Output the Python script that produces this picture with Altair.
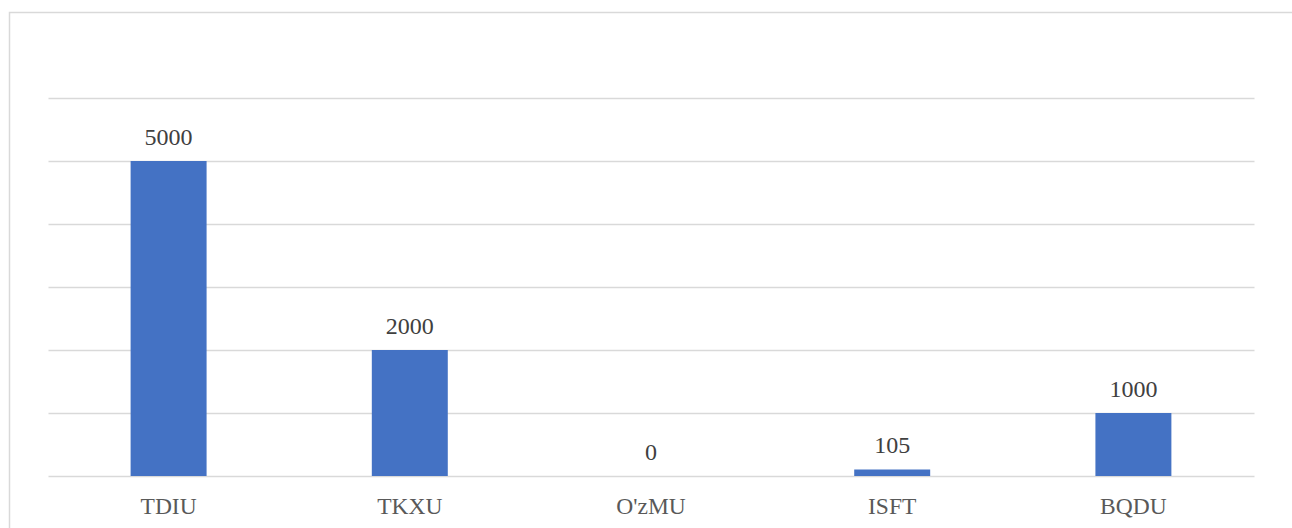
import altair as alt
import pandas as pd

categories = ["TDIU", "TKXU", "O'zMU", "ISFT", "BQDU"]
values = [5000, 2000, 0, 105, 1000]

df = pd.DataFrame({"cat": categories, "val": values})

FONT = "Liberation Serif"
W, H = 1206, 378

x = alt.X("cat:N", sort=categories, title=None,
          scale=alt.Scale(paddingInner=0.685, paddingOuter=0.3425),
          axis=alt.Axis(labelAngle=0, ticks=False, tickSize=0, domain=False,
                        labelFont=FONT, labelFontSize=23.5, labelColor="#595959",
                        labelBaseline="alphabetic", labelPadding=37, grid=False))
y = alt.Y("val:Q", title=None,
          scale=alt.Scale(domain=[0, 6000], nice=False),
          axis=alt.Axis(labels=False, ticks=False, domain=False, values=[0, 1000, 2000, 3000, 4000, 5000, 6000],
                        grid=True, gridColor="#d9d9d9", gridWidth=1.5))

base = alt.Chart(df)
bars = base.mark_bar(color="#4472C4").encode(x=x, y=y)
labels = base.mark_text(font=FONT, fontSize=24, color="#404040", baseline="alphabetic", dy=-16).encode(
    x=alt.X("cat:N", sort=categories), y="val:Q", text="val:Q")

border = alt.Chart(pd.DataFrame({"a": [0]})).mark_rect(fill=None, stroke="#d9d9d9", strokeWidth=1.5).encode(
    x=alt.value(-38.5), x2=alt.value(1300), y=alt.value(-85.5), y2=alt.value(500))

chart = alt.layer(bars, labels, border).properties(
    width=W, height=H,
    padding={"left": 48, "top": 98, "right": 38, "bottom": 52},
    autosize=alt.AutoSizeParams(type="none"),
    background="white",
).configure_view(stroke=None)

chart.save("out.html", embed_options={"renderer": "svg", "actions": False})
